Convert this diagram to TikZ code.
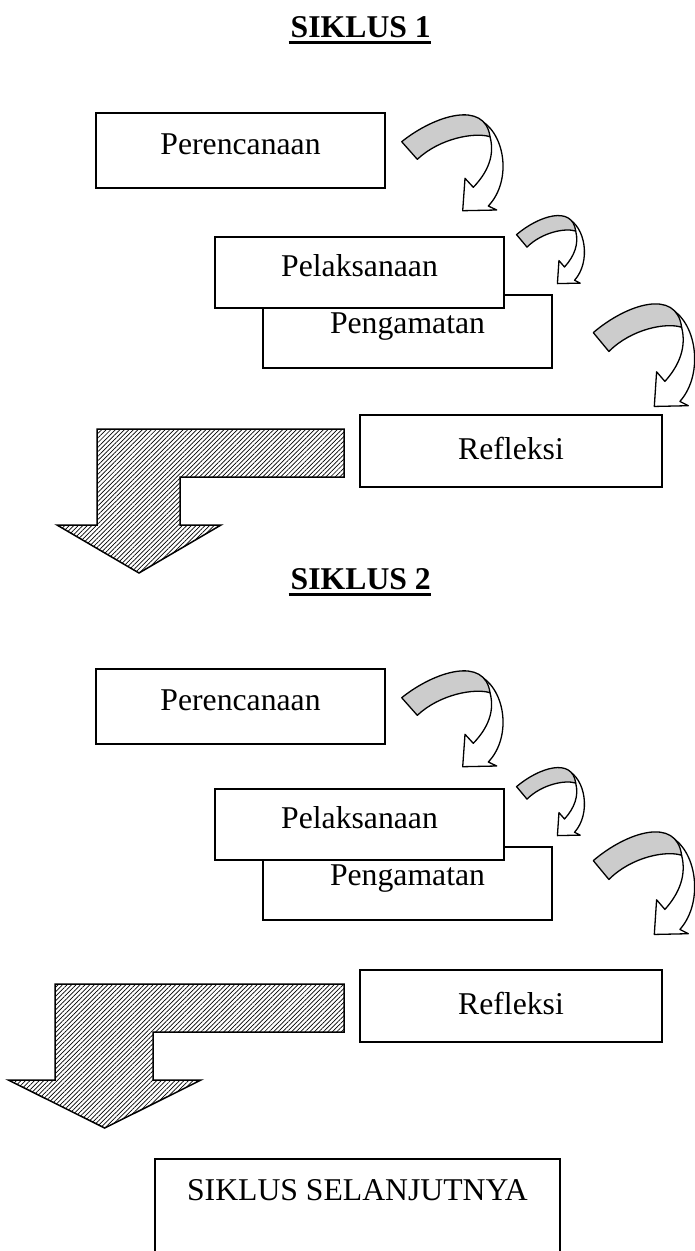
\documentclass[tikz,border=0pt]{standalone}
\usepackage{fontspec}
\setmainfont{Liberation Serif}
\usetikzlibrary{patterns.meta}
\tikzset{
  box/.style={draw, line width=1.6pt, fill=white, rectangle, inner sep=0pt,
    font=\fontsize{31.7}{38}\selectfont, text height=21pt},
  hatch/.style={draw, line width=1.5pt, pattern={Lines[angle=45,distance=3.2pt,line width=0.7pt]}},
  ttl/.style={font=\fontsize{31.7}{38}\selectfont\bfseries, inner sep=0pt, anchor=base east},
  curvarr/.pic={
    \path[fill=white, draw, line width=1.3pt, line join=round]
      (96.7,18.3) .. controls (125,30) and (133,80) .. (108.3,106)
      -- (116.7,110) -- (82.7,110.7) -- (85,78.3) -- (93.3,87.3)
      .. controls (108,72) and (115,55) .. (110,36.7) -- cycle;
    \path[fill=gray!40, draw, line width=1.3pt, line join=round]
      (21.7,41.7) .. controls (55,15) and (105,0) .. (110,36.7)
      .. controls (95,32) and (60,38) .. (37.3,59.3) -- cycle;
  }
}
\begin{document}
\begin{tikzpicture}[x=1pt,y=-1pt]
\useasboundingbox (0,0) rectangle (694,1251);

% ---------- SIKLUS 1 ----------
\node[ttl] (t1) at (431,37) {SIKLUS 1};
\draw[line width=2.8pt] ([xshift=-2pt,yshift=-5.5pt]t1.base west) -- ([yshift=-5.5pt]t1.base east);

\node[box, minimum width=289pt, minimum height=75pt, text depth=14pt] (p1) at (240.5,150.5) {Perencanaan};
\node[box, minimum width=289pt, minimum height=73pt, text depth=18pt] (m1) at (407.5,331.5) {Pengamatan};
\node[box, minimum width=289pt, minimum height=71pt, text depth=12.6pt] (l1) at (359.5,272.5) {Pelaksanaan};
\node[box, minimum width=302pt, minimum height=72pt, text depth=4pt] (r1) at (511,451) {Refleksi};

\path (380,100) pic {curvarr};
\path (502,205) pic[xscale=0.67, yscale=0.71] {curvarr};
\path (571.6,288) pic[yscale=1.07] {curvarr};

\path[hatch] (97,429) -- (344,429) -- (344,477) -- (180,477) -- (180,525)
  -- (221,525) -- (139,573) -- (57,525) -- (97,525) -- cycle;

% ---------- SIKLUS 2 ----------
\node[ttl] (t2) at (431,589) {SIKLUS 2};
\draw[line width=2.8pt] ([xshift=-2pt,yshift=-5.5pt]t2.base west) -- ([yshift=-5.5pt]t2.base east);

\node[box, minimum width=289pt, minimum height=75pt, text depth=14pt] (p2) at (240.5,706.5) {Perencanaan};
\node[box, minimum width=289pt, minimum height=73pt, text depth=18pt] (m2) at (407.5,883.5) {Pengamatan};
\node[box, minimum width=289pt, minimum height=71pt, text depth=12.6pt] (l2) at (359.5,824.5) {Pelaksanaan};
\node[box, minimum width=302pt, minimum height=72pt, text depth=4pt] (r2) at (511,1006) {Refleksi};

\path (380,656) pic {curvarr};
\path (502,757) pic[xscale=0.67, yscale=0.71] {curvarr};
\path (571.6,816) pic[yscale=1.07] {curvarr};

\path[hatch] (55,984) -- (344,984) -- (344,1032) -- (153,1032) -- (153,1080)
  -- (201,1080) -- (104.7,1128) -- (8.3,1080) -- (55,1080) -- cycle;

% ---------- SIKLUS SELANJUTNYA ----------
\node[box, minimum width=405pt, minimum height=100pt, text depth=39pt] (s) at (357.5,1209) {SIKLUS SELANJUTNYA};
\end{tikzpicture}
\end{document}
